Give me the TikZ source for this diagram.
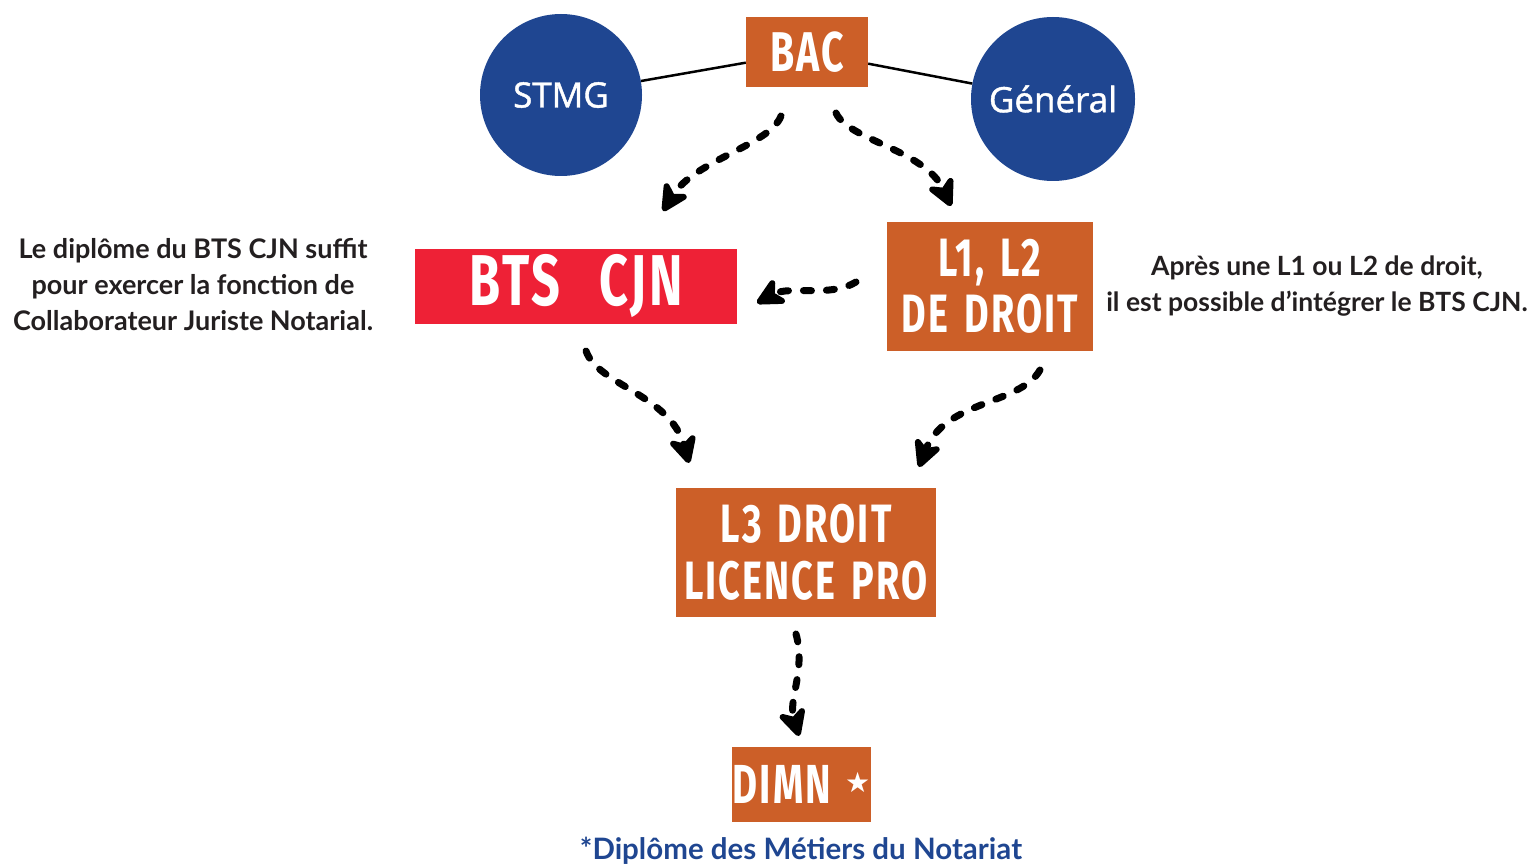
\documentclass[tikz,border=0pt]{standalone}
\usepackage{fontspec}
\setmainfont{Lato}
\newfontfamily\headfont[FakeStretch=0.7,LetterSpace=4]{Fira Sans}
\newfontfamily\circfont[FakeBold=1.2]{Open Sans}
\newfontfamily\symfont{DejaVu Sans}
\usetikzlibrary{arrows.meta}
\definecolor{rust}{RGB}{204,95,40}
\definecolor{bred}{RGB}{238,33,54}
\definecolor{navy}{RGB}{31,70,145}
\definecolor{ink}{RGB}{35,31,32}
\tikzset{
  orangebox/.style={fill=rust, inner sep=0pt, text=white, align=center},
  redbox/.style={fill=bred, inner sep=0pt, text=white, align=center},
  bluedisc/.style={circle, fill=navy, inner sep=0pt, text=white, font=\circfont\fontsize{35}{40}\selectfont},
  note/.style={text=ink, align=center, inner sep=0pt},
  flow/.style={line width=7pt, line cap=round, dash pattern=on 8pt off 15pt,
    -{Stealth[length=34pt,width=34pt,inset=10pt,round]}},
  link/.style={line width=2.5pt}
}
\begin{document}
\begin{tikzpicture}[x=1pt,y=-1pt]
\path[use as bounding box] (0,0) rectangle (1529,866);

\node[bluedisc, minimum size=162pt] (stmg) at (561,95) {STMG};
\node[bluedisc, minimum size=164pt] (gen) at (1053,99) {Général};
\node[orangebox, minimum width=122pt, minimum height=70pt,
  font=\headfont\bfseries\fontsize{56}{56}\selectfont] (bac) at (807,52) {BAC};
\draw[link] (stmg) -- (bac);
\draw[link] (bac) -- (gen);

\node[redbox, minimum width=322pt, minimum height=75pt,
  font=\headfont\bfseries\fontsize{72}{72}\selectfont] (bts) at (576,286.5) {BTS\hspace{0.55em}CJN};
\node[orangebox, minimum width=206pt, minimum height=129pt,
  font=\headfont\bfseries\fontsize{54}{56}\selectfont] (l12) at (990,286.5) {L1,\hspace{0.3em}L2\\DE\hspace{0.3em}DROIT};
\node[orangebox, minimum width=260pt, minimum height=129pt,
  font=\headfont\bfseries\fontsize{54}{57}\selectfont] (l3) at (806,552.5) {L3\hspace{0.3em}DROIT\\LICENCE\hspace{0.3em}PRO};
\node[orangebox, minimum width=139pt, minimum height=75pt,
  font=\headfont\bfseries\fontsize{55}{55}\selectfont] (dimn) at (801.5,784.5)
  {DIMN\hspace{0.25em}\raisebox{0.2em}{\symfont\fontsize{28}{28}\selectfont ★}};

\node[note, font=\bfseries\fontsize{27}{36}\selectfont] (lnote) at (193,285)
  {Le diplôme du BTS CJN suffit\\pour exercer la fonction de\\Collaborateur Juriste Notarial.};
\node[note, font=\bfseries\fontsize{26.5}{36}\selectfont] (rnote) at (1317,286)
  {Après une L1 ou L2 de droit,\\il est possible d’intégrer le BTS CJN.};
\node[text=navy, inner sep=0pt, font=\bfseries\fontsize{29.5}{32}\selectfont] (foot) at (801,851)
  {*Diplôme des Métiers du Notariat};

\coordinate (a1s) at (781,116); \coordinate (a1e) at (663,211);
\coordinate (a2s) at (836,113); \coordinate (a2e) at (951,206);
\coordinate (a3s) at (856,282); \coordinate (a3e) at (757,303);
\coordinate (a4s) at (586,351); \coordinate (a4e) at (689,463);
\coordinate (a5s) at (1040,370); \coordinate (a5e) at (919,467);
\coordinate (a6s) at (796,634); \coordinate (a6e) at (799,736);

\draw[flow] (a1s) .. controls (770,145) and (695,160) .. (a1e);
\draw[flow] (a2s) .. controls (848,140) and (925,150) .. (a2e);
\draw[flow] (a3s) .. controls (830,298) and (790,285) .. (a3e);
\draw[flow] (a4s) .. controls (598,385) and (670,395) .. (a4e);
\draw[flow] (a5s) .. controls (1020,405) and (945,400) .. (a5e);
\draw[flow] (a6s) .. controls (806,670) and (788,700) .. (a6e);
\end{tikzpicture}
\end{document}
